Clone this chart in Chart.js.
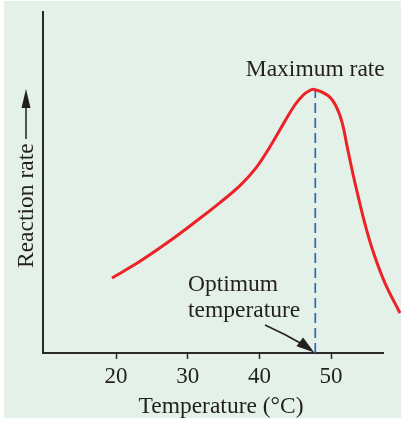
<!DOCTYPE html>
<html>
<head>
<meta charset="utf-8">
<script src="https://cdn.jsdelivr.net/npm/chart.js@4.4.1/dist/chart.umd.min.js"></script>
<style>
  html, body { margin: 0; padding: 0; background: #ffffff; }
  canvas { display: block; }
</style>
</head>
<body>
<canvas id="c" width="401" height="422"></canvas>
<script>
// Temperature (°C) along the curve
const temperatures = [19.43, 23.34, 27.52, 31.71, 34.50, 37.29, 39.39, 41.48, 43.57, 44.97, 46.09, 46.78, 47.62, 49.57, 50.69, 51.53, 52.23, 53.06, 53.90, 54.88, 55.99, 57.53, 59.62];
// Reaction rate (arbitrary units, 0-100)
const reactionRates = [22.0, 26.9, 32.9, 39.5, 44.1, 49.1, 53.9, 60.5, 68.0, 72.8, 75.6, 76.7, 77.3, 75.5, 72.4, 67.7, 60.7, 52.5, 44.9, 36.7, 29.0, 20.5, 11.7];
// Optimum temperature marker
const optimumTemps = [47.8, 47.8];
const optimumRates = [0, 77.3];
// x-axis tick labels
const xTickValues = [20, 30, 40, 50];
// axis ranges
const xRange = [9.8, 57.25];
const yRange = [0, 100];

const FONT = '"Liberation Serif", "Times New Roman", serif';
const INK = '#231f20';
const BG = '#e4f1e8';

const curveData = temperatures.map((t, i) => ({ x: t, y: reactionRates[i] }));
const optimumData = optimumTemps.map((t, i) => ({ x: t, y: optimumRates[i] }));

const bgPlugin = {
  id: 'bg',
  beforeDraw(chart) {
    const ctx = chart.ctx;
    ctx.save();
    ctx.fillStyle = BG;
    ctx.fillRect(4, 1, chart.width - 4, 417);
    ctx.restore();
  }
};

function arrowHead(ctx, tipX, tipY, fromX, fromY, len, halfW) {
  const a = Math.atan2(tipY - fromY, tipX - fromX);
  const bx = tipX - len * Math.cos(a), by = tipY - len * Math.sin(a);
  const nx = -Math.sin(a), ny = Math.cos(a);
  ctx.beginPath();
  ctx.moveTo(tipX, tipY);
  ctx.lineTo(bx + nx * halfW, by + ny * halfW);
  ctx.lineTo(bx - nx * halfW, by - ny * halfW);
  ctx.closePath();
  ctx.fill();
}

const labelPlugin = {
  id: 'labels',
  afterDraw(chart) {
    const ctx = chart.ctx;
    const xs = chart.scales.x, ys = chart.scales.y;
    ctx.save();
    ctx.fillStyle = INK;
    ctx.strokeStyle = INK;
    ctx.font = '23.5px ' + FONT;

    // Maximum rate
    const px = xs.getPixelForValue(optimumTemps[0]);
    const py = ys.getPixelForValue(optimumRates[1]);
    ctx.textAlign = 'center';
    ctx.textBaseline = 'alphabetic';
    ctx.fillText('Maximum rate', px, py - 13);

    // Optimum temperature
    ctx.textAlign = 'left';
    ctx.fillText('Optimum', 188, 291);
    ctx.fillText('temperature', 188, 317);

    // arrow to optimum
    const tipX = px, tipY = ys.getPixelForValue(0);
    ctx.lineWidth = 1.5;
    ctx.beginPath();
    ctx.moveTo(265, 325);
    ctx.quadraticCurveTo(285, 334, 302, 344);
    ctx.stroke();
    arrowHead(ctx, tipX - 1, tipY - 0.5, 296, 339, 18, 5.5);

    // x title
    ctx.textAlign = 'center';
    ctx.fillText('Temperature (\u00B0C)', 221, 413);

    // y title with arrow
    ctx.save();
    ctx.translate(33, 268);
    ctx.rotate(-Math.PI / 2);
    ctx.textAlign = 'left';
    ctx.fillText('Reaction rate', 0, 0);
    ctx.restore();
    ctx.lineWidth = 1.5;
    ctx.beginPath();
    ctx.moveTo(26, 139);
    ctx.lineTo(26, 104);
    ctx.stroke();
    arrowHead(ctx, 26, 89, 26, 120, 19, 4.5);

    ctx.restore();
  }
};

new Chart(document.getElementById('c'), {
  type: 'scatter',
  data: {
    datasets: [
      {
        data: curveData,
        showLine: true,
        borderColor: '#ec2227',
        borderWidth: 3,
        pointRadius: 0,
        tension: 0.4,
        clip: false
      },
      {
        data: optimumData,
        showLine: true,
        borderColor: '#2a6ab3',
        borderWidth: 1.7,
        borderDash: [10, 5],
        pointRadius: 0,
        clip: false
      }
    ]
  },
  options: {
    responsive: false,
    animation: false,
    devicePixelRatio: 1,
    layout: { padding: { top: 12, right: 18, left: 0, bottom: 0 } },
    plugins: { legend: { display: false }, tooltip: { enabled: false } },
    scales: {
      x: {
        type: 'linear',
        bounds: 'data',
        afterDataLimits: s => { s.min = xRange[0]; s.max = xRange[1]; },
        afterBuildTicks: s => { s.ticks = xTickValues.map(v => ({ value: v })); },
        afterFit: s => { s.height = 69; },
        grid: { drawOnChartArea: false, drawTicks: true, tickLength: 6, tickColor: '#2a2a2a', tickWidth: 1.5 },
        border: { display: true, color: '#2a2a2a', width: 2 },
        ticks: { color: INK, font: { family: FONT, size: 23 }, padding: 4, maxRotation: 0 }
      },
      y: {
        type: 'linear',
        min: yRange[0],
        max: yRange[1],
        afterFit: s => { s.width = 43; },
        grid: { display: false, drawTicks: false },
        border: { display: true, color: '#2a2a2a', width: 2 },
        ticks: { display: false }
      }
    }
  },
  plugins: [bgPlugin, labelPlugin]
});
</script>
</body>
</html>
